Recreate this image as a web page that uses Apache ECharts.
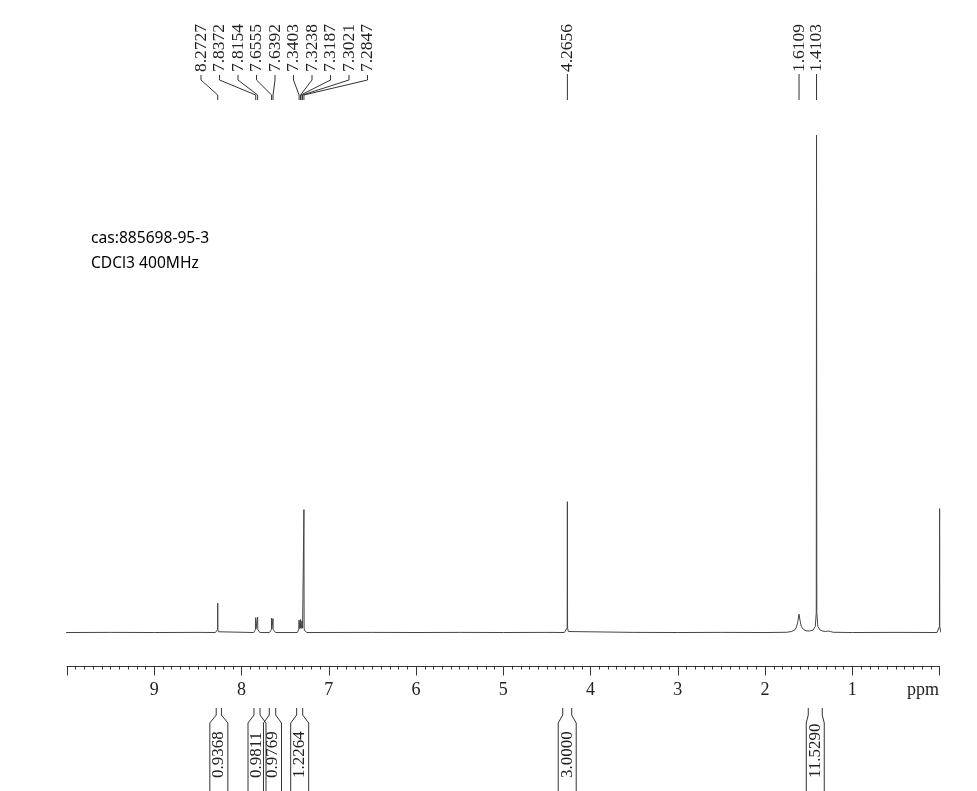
<!DOCTYPE html>
<html><head><meta charset="utf-8">
<script src="https://cdn.jsdelivr.net/npm/echarts@6/dist/echarts.min.js"></script>
<style>html,body{margin:0;padding:0;background:#fff}#c{width:977px;height:791px}</style>
</head><body><div id="c"></div>
<script>
// ---- data ----
// spectrum points: [ppm, relative intensity] (1.4103 peak = 100)
const spectrum = [
[10.01,0],[9.5,0.03],[9.0,0],[8.5,0.03],[8.30,0],
[8.28,0.15],[8.2745,0.6],[8.2727,5.9],[8.2709,0.6],[8.265,0.15],[8.25,0],
[7.86,0],[7.845,0.2],[7.8392,0.6],[7.8372,3.0],[7.8352,0.7],[7.8263,0.5],[7.8174,0.7],[7.8154,3.1],[7.8134,0.6],[7.805,0.2],[7.79,0],
[7.68,0],[7.665,0.2],[7.6575,0.6],[7.6555,2.9],[7.6535,0.7],[7.6473,0.6],[7.6412,0.7],[7.6392,2.8],[7.6372,0.6],[7.63,0.2],[7.61,0],
[7.36,0],[7.345,0.3],[7.3423,0.7],[7.3403,2.5],[7.3383,0.8],[7.332,0.7],[7.3258,0.8],[7.3238,2.6],[7.3218,0.9],[7.3187,2.4],[7.3167,0.8],[7.311,0.7],[7.3041,0.8],[7.3021,2.3],[7.3001,0.9],[7.2935,0.6],[7.2867,0.9],[7.2847,24.7],[7.2827,0.9],[7.278,0.4],[7.27,0.15],[7.25,0],
[6.5,0.03],[6.0,0],[5.5,0.03],[5.0,0],[4.5,0.03],[4.30,0],
[4.28,0.2],[4.2676,1.0],[4.2656,26.3],[4.2636,1.0],[4.255,0.2],[4.24,0],
[3.5,0.03],[3.0,0],[2.5,0.03],[2.0,0],[1.75,0.05],
[1.70,0.2],[1.66,0.5],[1.64,1.1],[1.625,2.2],[1.6109,3.7],[1.60,2.5],[1.585,1.2],[1.56,0.6],[1.53,0.35],[1.49,0.3],[1.45,0.5],[1.425,1.2],[1.4133,4],[1.4103,100],[1.4073,4],[1.395,1.2],[1.37,0.5],[1.34,0.3],[1.31,0.2],[1.29,0.35],[1.275,0.3],[1.265,0.35],[1.25,0.2],[1.22,0.05],[1.0,0],[0.5,0.03],[0.03,0],
[0.012,0.4],[0.0018,1.2],[0,24.9],[-0.0018,1.2],[-0.01,0.3],[-0.017,0]
];
// peak picking labels (ppm)
const peakLabels = [8.2727,7.8372,7.8154,7.6555,7.6392,7.3403,7.3238,7.3187,7.3021,7.2847,4.2656,1.6109,1.4103];
// integration ranges [from ppm, to ppm] and values
const integralRanges = [[8.29,8.23],[7.857,7.788],[7.682,7.608],[7.368,7.299],[4.319,4.216],[1.505,1.345]];
const integralValues = ['0.9368','0.9811','0.9769','1.2264','3.0000','11.5290'];
// axis
const xMin = 0, xMax = 10, xInterval = 1;
const xUnit = 'ppm';
const notes = ['cas:885698-95-3','CDCl3 400MHz'];

// ---- chart ----
const chart = echarts.init(document.getElementById('c'), null, {renderer:'canvas'});
const SERIF = '"Liberation Serif","Times New Roman",serif';
const INK = '#333';

function labelSlots(api){
  const xs = peakLabels.map(p => api.coord([p,0])[0]);
  const SPREAD = 18.5, MINSEP = 15;
  let clusters = xs.map((x,i)=>({idx:[i], c:x}));
  let merged = true;
  while(merged){
    merged = false;
    for(let k=0;k<clusters.length-1;k++){
      const a = clusters[k], b = clusters[k+1];
      const single = a.idx.length===1 && b.idx.length===1;
      const aR = a.c + (a.idx.length-1)/2*SPREAD;
      const bL = b.c - (b.idx.length-1)/2*SPREAD;
      const need = single ? MINSEP : SPREAD;
      if (bL - aR < need){
        const idx = a.idx.concat(b.idx);
        const c = idx.reduce((s,i)=>s+xs[i],0)/idx.length + 6;
        clusters.splice(k,2,{idx, c});
        merged = true; break;
      }
    }
  }
  const slots = [];
  clusters.forEach(cl => cl.idx.forEach((i,j)=>{ slots[i] = cl.idx.length===1 ? xs[i] : cl.c + (j-(cl.idx.length-1)/2)*SPREAD; }));
  return {xs, slots};
}

const option = {
  animation:false,
  backgroundColor:'#fff',
  grid:{left:67, right:37.4, top:135, bottom:153.5},
  xAxis:{
    type:'value', inverse:true, min:xMin, max:xMax, interval:xInterval,
    offset:29,
    axisLine:{show:true, onZero:false, lineStyle:{color:INK, width:1}},
    axisTick:{show:true, length:9, lineStyle:{color:INK}},
    minorTick:{show:true, splitNumber:10, length:3, lineStyle:{color:INK}},
    splitLine:{show:false},
    axisLabel:{margin:15, color:'#222', fontFamily:SERIF, fontSize:18,
      formatter:v => (v===xMin||v===xMax) ? '' : String(v)}
  },
  yAxis:{type:'value', min:-1, max:100, show:false},
  graphic:[
    {type:'text', left:907, top:681, style:{text:xUnit, font:'18px '+SERIF, fill:'#222'}},
    {type:'text', left:91, top:231, style:{text:notes[0], font:'15.6px "Noto Sans", sans-serif', fill:'#000'}},
    {type:'text', left:91, top:256, style:{text:notes[1], font:'15.6px "Noto Sans", sans-serif', fill:'#000'}}
  ],
  series:[
    {type:'line', data:spectrum, showSymbol:false, symbol:'none', clip:false,
     lineStyle:{color:'#444', width:1}, silent:true, z:3},
    {type:'custom', silent:true, clip:false, z:4,
     data: peakLabels.map((p,i)=>[p,0,i]),
     renderItem:(params, api)=>{
       const i = params.dataIndex;
       const {xs, slots} = labelSlots(api);
       const px = xs[i], lx = slots[i];
       const pts = Math.abs(px-lx) < 0.5 ? [[px,74],[px,100]] : [[lx,75],[lx,80],[px,95],[px,100]];
       return {type:'group', children:[
         {type:'polyline', shape:{points:pts}, style:{stroke:INK, lineWidth:1, fill:null}},
         {type:'text', x:lx, y:72, rotation:Math.PI/2,
          style:{text:peakLabels[i].toFixed(4), font:'17.5px '+SERIF, fill:'#222', align:'left', verticalAlign:'middle'}}
       ]};
     }},
    {type:'custom', silent:true, clip:false, z:4,
     data: integralRanges.map((r,i)=>[r[0],0,r[1],i]),
     renderItem:(params, api)=>{
       const i = params.dataIndex;
       const r = integralRanges[i];
       const x1 = api.coord([r[0],0])[0], x2 = api.coord([r[1],0])[0];
       const c = (x1+x2)/2, hw = 9;
       return {type:'group', children:[
         {type:'polyline', shape:{points:[[x1,708],[x1,715],[c-hw,723],[c-hw,800]]}, style:{stroke:INK, lineWidth:1, fill:null}},
         {type:'polyline', shape:{points:[[x2,708],[x2,715],[c+hw,723],[c+hw,800]]}, style:{stroke:INK, lineWidth:1, fill:null}},
         {type:'text', x:c, y:778, rotation:Math.PI/2,
          style:{text:integralValues[i], font:'17px '+SERIF, fill:'#222', align:'left', verticalAlign:'middle'}}
       ]};
     }}
  ]
};
chart.setOption(option);
</script>
</body></html>
